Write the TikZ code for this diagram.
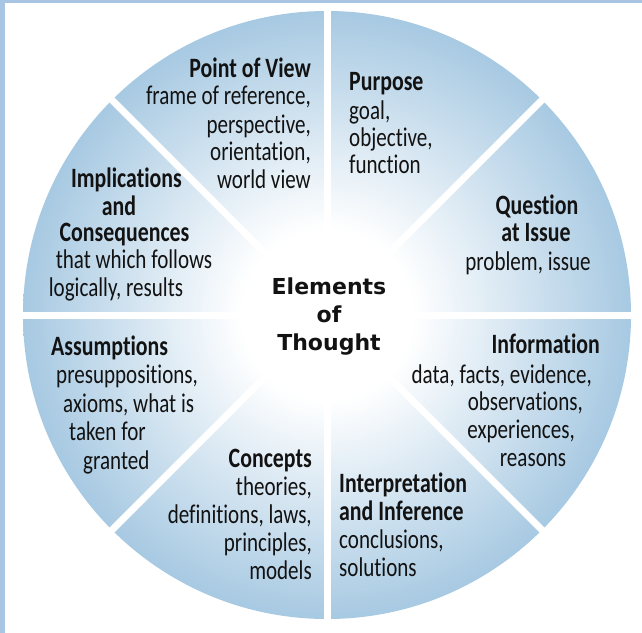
\documentclass[tikz,border=0pt]{standalone}
\usepackage{fontspec}
\setmainfont[FakeStretch=0.78, Ligatures={NoCommon}]{Carlito}
\newfontfamily\centerfont{DejaVu Sans}
\usetikzlibrary{calc}
\definecolor{stripblue}{RGB}{168,198,228}
\definecolor{sectorblue}{RGB}{167,201,226}
\definecolor{inkcol}{RGB}{18,18,18}
\pgfdeclareradialshading{elements}{\pgfpoint{0bp}{0bp}}{color(0bp)=(white); color(7bp)=(white); color(25bp)=(sectorblue); color(50bp)=(sectorblue)}
\tikzset{
  sep/.style={draw=white, line width=7bp},
  txt/.style={inner sep=0pt, text=inkcol, font=\fontsize{27bp}{28bp}\selectfont},
  ttl/.style={txt, font=\fontsize{28bp}{28bp}\selectfont\bfseries},
  ctr/.style={inner sep=0pt, text=inkcol, font=\centerfont\bfseries\fontsize{22bp}{28bp}\selectfont},
  R/.style={anchor=mid east},
  L/.style={anchor=mid west},
  C/.style={anchor=mid}
}
\begin{document}
\begin{tikzpicture}[x=1bp, y=-1bp]
\useasboundingbox (0,0) rectangle (642,633);
\fill[stripblue] (0,0) rectangle (5,633);
\fill[stripblue] (0,0) rectangle (642,3);
\coordinate (c) at (327,315);
\shade[shading=elements] (c) circle (304);
\foreach \a in {0,45,90,135}{
  \draw[sep] ($(c)+(\a:312)$) -- ($(c)+(\a+180:312)$);
}
% Point of View
\node[ttl,R] (pv1) at (311,75) {Point of View};
\node[txt,R] (pv2) at (311,102) {frame of reference,};
\node[txt,R] (pv3) at (311,131) {perspective,};
\node[txt,R] (pv4) at (311,158) {orientation,};
\node[txt,R] (pv5) at (311,186) {world view};
% Purpose
\node[ttl,L] (pu1) at (349,88) {Purpose};
\node[txt,L] (pu2) at (349,117) {goal,};
\node[txt,L] (pu3) at (349,144) {objective,};
\node[txt,L] (pu4) at (349,171) {function};
% Question at Issue
\node[ttl,C] (qi1) at (537,212) {Question};
\node[ttl,C] (qi2) at (536,239) {at Issue};
\node[txt,C] (qi3) at (528,268) {problem, issue};
% Information
\node[ttl,R] (in1) at (600,351) {Information};
\node[txt,R] (in2) at (592,381) {data, facts, evidence,};
\node[txt,R] (in3) at (583,408) {observations,};
\node[txt,R] (in4) at (575,436) {experiences,};
\node[txt,C] (in5) at (533,464) {reasons};
% Interpretation and Inference
\node[ttl,L] (ii1) at (339,490) {Interpretation};
\node[ttl,L] (ii2) at (339,518) {and Inference};
\node[txt,L] (ii3) at (339,546) {conclusions,};
\node[txt,L] (ii4) at (339,574) {solutions};
% Concepts
\node[ttl,R] (co1) at (312,465) {Concepts};
\node[txt,R] (co2) at (312,493) {theories,};
\node[txt,R] (co3) at (312,521) {definitions, laws,};
\node[txt,R] (co4) at (312,549) {principles,};
\node[txt,R] (co5) at (312,577) {models};
% Assumptions
\node[ttl,L] (as1) at (51,353) {Assumptions};
\node[txt,L] (as2) at (56,381) {presuppositions,};
\node[txt,L] (as3) at (63,410) {axioms, what is};
\node[txt,L] (as4) at (69,438) {taken for};
\node[txt,L] (as5) at (83,467) {granted};
% Implications and Consequences
\node[ttl,C] (im1) at (126.5,185) {Implications};
\node[ttl,C] (im2) at (119,213.5) {and};
\node[ttl,C] (im3) at (124.5,239.5) {Consequences};
\node[txt,C] (im4) at (134,266) {that which follows};
\node[txt,C] (im5) at (116,294) {logically, results};
% Center
\node[ctr,C] (e1) at (329,292) {Elements};
\node[ctr,C] (e2) at (329,320) {of};
\node[ctr,C] (e3) at (329,348) {Thought};
\end{tikzpicture}
\end{document}
